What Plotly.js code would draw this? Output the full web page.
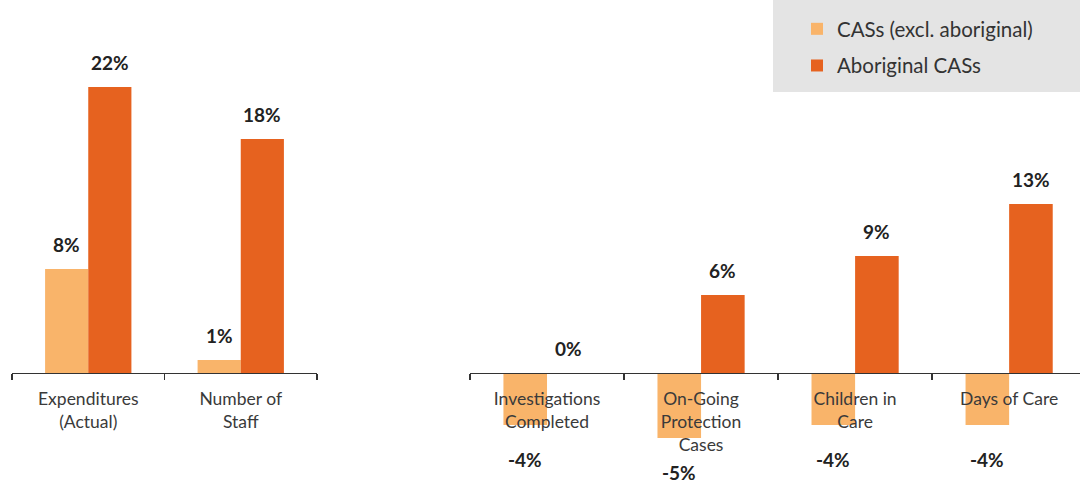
<!DOCTYPE html>
<html><head><meta charset="utf-8">
<script src="https://cdn.plot.ly/plotly-3.0.1.min.js"></script>
<style>html,body{margin:0;padding:0;background:#fff}#chart{width:1080px;height:487px}</style>
</head><body><div id="chart"></div>
<script>
const leftCategories = ["Expenditures<br>(Actual)", "Number of<br>Staff"];
const leftCAS = [8, 1];
const leftAboriginal = [22, 18];
const rightCategories = ["Investigations<br>Completed", "On-Going<br>Protection<br>Cases", "Children in<br>Care", "Days of Care"];
const rightCAS = [-4, -5, -4, -4];
const rightAboriginal = [0, 6, 9, 13];
const seriesNames = ["CASs (excl. aboriginal)", "Aboriginal CASs"];

const colors = ["#F9B46A", "#E6621F"];
const FONT = "Lato, 'Open Sans', sans-serif";
const yRange = [-8.77, 28.69];
const zeroPos = -yRange[0] / (yRange[1] - yRange[0]);
const half = (1 - 0.434) / 4;

function bar(x, y, i, xa, ya, show) {
  return {type: 'bar', x: x, y: y, name: seriesNames[i], marker: {color: colors[i]},
    xaxis: xa, yaxis: ya, showlegend: show, legendgroup: 'g' + i, hoverinfo: 'skip'};
}
const data = [
  bar(leftCategories, leftCAS, 0, 'x', 'y', true),
  bar(leftCategories, leftAboriginal, 1, 'x', 'y', true),
  bar(rightCategories, rightCAS, 0, 'x2', 'y2', false),
  bar(rightCategories, rightAboriginal, 1, 'x2', 'y2', false)
];

const annotations = [];
function addLabels(vals, sign, xref, yref) {
  vals.forEach((v, k) => {
    const neg = v < 0;
    annotations.push({xref: xref, yref: yref, x: k + sign * half, y: v,
      text: '<b>' + v + '%</b>', showarrow: false, yanchor: 'middle',
      yshift: neg ? -35 : 24, font: {family: FONT, size: 19, color: '#222'}});
  });
}
addLabels(leftCAS, -1, 'x', 'y');
addLabels(leftAboriginal, 1, 'x', 'y');
addLabels(rightCAS, -1, 'x2', 'y2');
addLabels(rightAboriginal, 1, 'x2', 'y2');

const xaxisBase = {type: 'category', anchor: 'free', position: zeroPos, showline: true,
  linecolor: '#333', linewidth: 1.5, ticks: 'outside', tickson: 'boundaries', ticklen: 6,
  tickcolor: '#333', tickwidth: 1.5, showgrid: false, zeroline: false, fixedrange: true,
  ticklabelstandoff: 10,
  tickfont: {family: FONT, size: 17.5, color: '#3a3a3a'}};
const yaxisBase = {range: yRange, visible: false, showgrid: false, zeroline: false, domain: [0, 1]};

const layout = {
  width: 1080, height: 487, margin: {l: 0, r: 0, t: 0, b: 0},
  paper_bgcolor: '#fff', plot_bgcolor: 'rgba(0,0,0,0)',
  barmode: 'group', bargap: 0.434, bargroupgap: 0,
  xaxis: Object.assign({}, xaxisBase, {domain: [12/1080, 317/1080], range: [-0.5, 1.5]}),
  xaxis2: Object.assign({}, xaxisBase, {domain: [470/1080, 1], range: [-0.5, 3.46]}),
  yaxis: Object.assign({}, yaxisBase, {anchor: 'x'}),
  yaxis2: Object.assign({}, yaxisBase, {anchor: 'x2'}),
  showlegend: true,
  legend: {x: 797/1080, xanchor: 'left', y: 1 - 9/487, yanchor: 'top', bgcolor: 'rgba(0,0,0,0)',
    traceorder: 'grouped', tracegroupgap: 7, font: {family: FONT, size: 20.5, color: '#333'}},
  shapes: [{type: 'rect', xref: 'paper', yref: 'paper', x0: 773/1080, x1: 1, y0: 1 - 92/487, y1: 1,
    fillcolor: '#e4e4e4', line: {width: 0}, layer: 'below'}],
  annotations: annotations
};
Plotly.newPlot('chart', data, layout, {displayModeBar: false, staticPlot: true});
</script></body></html>
